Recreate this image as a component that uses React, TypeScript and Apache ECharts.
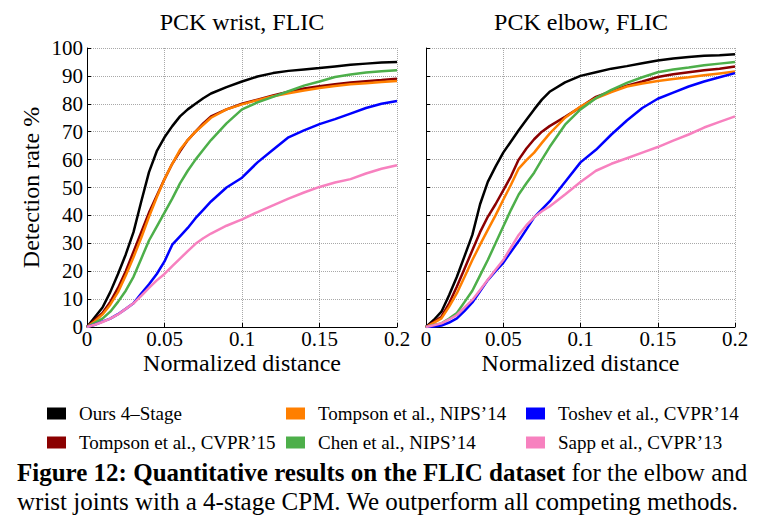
import React, { useEffect, useRef } from 'react';
import * as echarts from 'echarts';

const X_DIST = [0, 0.005, 0.01, 0.015, 0.02, 0.025, 0.03, 0.035, 0.04, 0.045, 0.05, 0.055, 0.06, 0.065, 0.07, 0.075, 0.08, 0.09, 0.1, 0.11, 0.12, 0.13, 0.14, 0.15, 0.16, 0.17, 0.18, 0.19, 0.2];

const SERIES_NAMES = ['Ours 4–Stage', 'Tompson et al., CVPR’15', 'Tompson et al., NIPS’14', 'Chen et al., NIPS’14', 'Toshev et al., CVPR’14', 'Sapp et al., CVPR’13'];
const COLORS = ['#000000', '#8b0000', '#ff7f00', '#4daf4a', '#0000ff', '#f781bf'];

// PCK wrist
const WRIST_OURS = [0, 3.5, 7, 12.5, 19, 26, 34, 45, 55.5, 63, 68, 72, 75.5, 78, 80, 82, 83.7, 86, 88, 89.8, 91, 91.8, 92.3, 92.8, 93.4, 94, 94.4, 94.8, 95];
const WRIST_TOMPSON_CVPR = [0, 2.5, 5, 9, 14, 20, 27, 34, 41, 47, 53, 58.5, 63, 67, 70, 73, 75.5, 78, 80, 81.5, 83, 84.3, 85.5, 86.3, 87, 87.6, 88.1, 88.5, 89];
const WRIST_TOMPSON_NIPS = [0, 2, 4.5, 8, 12.5, 18.5, 25, 32, 39.5, 46.5, 53, 58.5, 63.5, 67, 70, 72.5, 75, 78, 79.8, 81.3, 82.7, 83.8, 84.8, 85.7, 86.4, 87, 87.4, 87.8, 88.2];
const WRIST_CHEN = [0, 1.5, 3, 5.5, 9, 13, 18, 24.5, 31, 36, 41, 46, 51.5, 56, 60, 63.5, 67, 73, 78, 80.5, 82.5, 84.5, 86.5, 88, 89.6, 90.5, 91.2, 91.7, 92];
const WRIST_TOSHEV = [0, 0.8, 1.9, 3, 4.6, 6.5, 8.5, 12, 15.3, 19, 23.5, 29.5, 32.5, 35.5, 39, 42, 45, 50, 53.5, 59, 63.5, 68, 70.5, 72.7, 74.5, 76.5, 78.5, 80, 81];
const WRIST_SAPP = [0, 0.8, 1.8, 3, 4.5, 6.5, 8.5, 11.2, 14, 16.7, 19, 21.8, 24.5, 27.2, 29.8, 31.8, 33.5, 36.3, 38.6, 41.2, 43.6, 46, 48.2, 50.2, 51.8, 53, 55, 56.7, 58];

// PCK elbow
const ELBOW_OURS = [0, 2.5, 5.5, 11.5, 18, 25.5, 33, 44, 52, 57.5, 62.5, 66.5, 70.5, 74.3, 78, 81.5, 84.3, 87.7, 90, 91.3, 92.6, 93.5, 94.5, 95.5, 96.2, 96.8, 97.2, 97.4, 97.8];
const ELBOW_TOMPSON_CVPR = [0, 1.8, 3.7, 8.5, 14.5, 21, 27.5, 34, 39.5, 44, 49, 54, 60, 64, 67.3, 70, 72, 75.3, 78.8, 82.5, 84.5, 86.5, 88, 89.6, 90.6, 91.3, 92, 92.6, 93.4];
const ELBOW_TOMPSON_NIPS = [0, 1.5, 3.1, 7.3, 12.1, 18, 24, 29.5, 34.8, 40, 45.6, 51, 56.8, 59.8, 62.5, 66, 69.3, 75, 79, 82, 84.2, 86.2, 87.3, 88.2, 88.9, 89.5, 90.2, 90.9, 91.6];
const ELBOW_CHEN = [0, 0.7, 1.3, 3, 5, 9, 13, 18.5, 24, 30, 36, 42, 47.5, 51.5, 55.3, 60, 64.5, 72.5, 78, 82, 85, 87.5, 89.5, 91.3, 92.3, 93, 93.8, 94.4, 95];
const ELBOW_TOSHEV = [0, 0.2, 0.5, 1.6, 3.1, 5.8, 8.8, 12.8, 16.8, 20, 23, 27, 30.8, 35, 39.3, 42.2, 45, 52, 59, 63.5, 69, 74, 78.5, 81.8, 84, 86.2, 88, 89.5, 91];
const ELBOW_SAPP = [0, 0.6, 1.3, 2.7, 4.3, 7, 9.7, 13.3, 16.9, 20.5, 24, 28.5, 33, 36.5, 39.3, 41.5, 43.2, 47.5, 52, 56, 58.5, 60.5, 62.5, 64.5, 66.8, 69, 71.5, 73.5, 75.5];

const WRIST = [WRIST_OURS, WRIST_TOMPSON_CVPR, WRIST_TOMPSON_NIPS, WRIST_CHEN, WRIST_TOSHEV, WRIST_SAPP];
const ELBOW = [ELBOW_OURS, ELBOW_TOMPSON_CVPR, ELBOW_TOMPSON_NIPS, ELBOW_CHEN, ELBOW_TOSHEV, ELBOW_SAPP];

const X_TICKS = { min: 0, max: 0.2, interval: 0.05 };
const Y_TICKS = { min: 0, max: 100, interval: 10 };

const TITLES = ['PCK wrist, FLIC', 'PCK elbow, FLIC'];
const CAPTION_BOLD = 'Figure 12: Quantitative results on the FLIC dataset';
const CAPTION_REST = ' for the elbow and';
const CAPTION_LINE2 = 'wrist joints with a 4-stage CPM. We outperform all competing methods.';

const FONT = 'Liberation Serif';

export default function App() {
  const ref = useRef<HTMLDivElement>(null);
  useEffect(() => {
    if (!ref.current) return;
    const chart = echarts.init(ref.current, null, { renderer: 'svg' });
    let boldW = 560;
    try {
      const ctx = document.createElement('canvas').getContext('2d');
      if (ctx) {
        ctx.font = `bold 25px "${FONT}"`;
        boldW = ctx.measureText(CAPTION_BOLD).width;
      }
    } catch (e) {}
    const grids = [
      { left: 87, right: 373, top: 48, bottom: 199 },
      { left: 426, right: 35, top: 48, bottom: 199 },
    ];
    const xAxes = grids.map((_, i) => ({
      type: 'value',
      gridIndex: i,
      min: X_TICKS.min,
      max: X_TICKS.max,
      interval: X_TICKS.interval,
      name: 'Normalized distance',
      nameLocation: 'middle',
      nameGap: 24,
      nameMoveOverlap: false,
      nameTextStyle: { fontFamily: FONT, fontSize: 24, color: '#000' },
      axisLine: { show: true, lineStyle: { color: '#000', width: 1 } },
      axisTick: { show: true, inside: true, length: 4, lineStyle: { color: '#000' } },
      axisLabel: { fontFamily: FONT, fontSize: 21, color: '#000', margin: 1, showMaxLabel: true, showMinLabel: true },
      splitLine: { show: true, lineStyle: { type: 'dotted', color: '#a8a8a8', width: 1 } },
    }));
    const yAxes = grids.map((_, i) => ({
      type: 'value',
      gridIndex: i,
      min: Y_TICKS.min,
      max: Y_TICKS.max,
      interval: Y_TICKS.interval,
      name: i === 0 ? 'Detection rate %' : '',
      nameLocation: 'middle',
      nameGap: 44,
      nameMoveOverlap: false,
      nameTextStyle: { fontFamily: FONT, fontSize: 24, color: '#000' },
      axisLine: { show: true, lineStyle: { color: '#000', width: 1 } },
      axisTick: { show: true, inside: true, length: 4, lineStyle: { color: '#000' } },
      axisLabel: { show: i === 0, fontFamily: FONT, fontSize: 21, color: '#000', margin: 4 },
      splitLine: { show: true, lineStyle: { type: 'dotted', color: '#a8a8a8', width: 1 } },
    }));
    const mk = (sets: number[][], gi: number) =>
      sets.map((ys, k) => ({
        type: 'line',
        name: SERIES_NAMES[k],
        xAxisIndex: gi,
        yAxisIndex: gi,
        data: X_DIST.map((x, j) => [x, ys[j]]),
        showSymbol: false,
        symbol: 'none',
        smooth: false,
        color: COLORS[k],
        lineStyle: { color: COLORS[k], width: 2.5 },
        z: 2 + k,
      }));
    const legendBase = {
      orient: 'vertical',
      icon: 'rect',
      itemWidth: 19,
      itemHeight: 12,
      itemGap: 10,
      padding: 0,
      top: 404,
      selectedMode: false,
      textStyle: { fontFamily: FONT, fontSize: 19, color: '#000', lineHeight: 19, padding: [0, 0, 0, 8] },
    };
    chart.setOption({
      animation: false,
      backgroundColor: '#fff',
      textStyle: { fontFamily: FONT },
      grid: grids,
      xAxis: xAxes,
      yAxis: yAxes,
      legend: [
        { ...legendBase, left: 47, data: [SERIES_NAMES[0], SERIES_NAMES[1]] },
        { ...legendBase, left: 286, data: [SERIES_NAMES[2], SERIES_NAMES[3]] },
        { ...legendBase, left: 526, data: [SERIES_NAMES[4], SERIES_NAMES[5]] },
      ],
      graphic: [
        { type: 'text', x: 242, y: 22, style: { text: TITLES[0], fill: '#000', fontFamily: FONT, fontSize: 24, align: 'center', verticalAlign: 'middle' } },
        { type: 'text', x: 581, y: 22, style: { text: TITLES[1], fill: '#000', fontFamily: FONT, fontSize: 24, align: 'center', verticalAlign: 'middle' } },
        { type: 'text', x: 17, y: 472, style: { text: CAPTION_BOLD, fill: '#000', fontFamily: FONT, fontSize: 25, fontWeight: 'bold', verticalAlign: 'middle' } },
        { type: 'text', x: 17 + boldW, y: 472, style: { text: CAPTION_REST, fill: '#000', fontFamily: FONT, fontSize: 25, verticalAlign: 'middle' } },
        { type: 'text', x: 17, y: 501, style: { text: CAPTION_LINE2, fill: '#000', fontFamily: FONT, fontSize: 25, verticalAlign: 'middle' } },
      ],
      series: [...mk(WRIST, 0), ...mk(ELBOW, 1)],
    });
    return () => chart.dispose();
  }, []);
  return <div ref={ref} style={{ position: 'absolute', left: 0, top: 0, width: 770, height: 526, background: '#fff' }} />;
}
